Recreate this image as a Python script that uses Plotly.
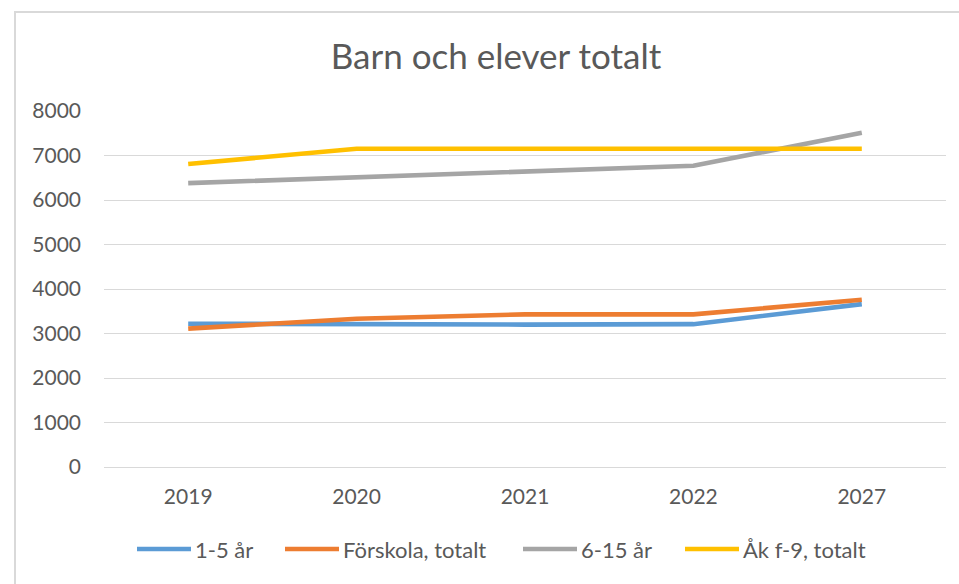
import plotly.graph_objects as go

years = ["2019", "2020", "2021", "2022", "2027"]
barn_1_5 = [3220, 3200, 3200, 3210, 3660]
forskola = [3110, 3330, 3430, 3430, 3760]
barn_6_15 = [6380, 6510, 6640, 6770, 7510]
ak_f9 = [6810, 7150, 7150, 7150, 7150]

series_names = ["1-5 år", "Förskola, totalt", "6-15 år", "Åk f-9, totalt"]
series_values = [barn_1_5, forskola, barn_6_15, ak_f9]
series_colors = ["#5B9BD5", "#ED7D31", "#A5A5A5", "#FFC000"]

W, H = 959, 584
L, R, T, B = 104, 946, 111, 467
# legend layout (page pixels): start of each legend line sample
legend_x = [137, 285, 523, 685]
legend_line_len = 54
legend_y = 549


def px_x(p):
    return (p - L) / (R - L)


def px_y(p):
    return (B - p) / (B - T)


fig = go.Figure()
for name, vals, col in zip(series_names, series_values, series_colors):
    fig.add_trace(go.Scatter(x=years, y=vals, name=name, mode="lines",
                             line=dict(color=col, width=4.6), hoverinfo="skip",
                             showlegend=False))

font = "Lato, 'Open Sans', sans-serif"
shapes = [dict(type="rect", xref="paper", yref="paper",
               x0=px_x(15), x1=2, y0=-2, y1=px_y(12),
               line=dict(color="#d9d9d9", width=2), layer="below")]
annotations = []
for name, col, lx in zip(series_names, series_colors, legend_x):
    shapes.append(dict(type="line", xref="paper", yref="paper",
                       x0=px_x(lx), x1=px_x(lx + legend_line_len),
                       y0=px_y(legend_y), y1=px_y(legend_y),
                       line=dict(color=col, width=4.6)))
    annotations.append(dict(text=name, xref="paper", yref="paper",
                            x=px_x(lx + legend_line_len + 2), y=px_y(legend_y),
                            xanchor="left", yanchor="middle", showarrow=False,
                            font=dict(family=font, size=22, color="#595959")))

fig.update_layout(
    width=W, height=H,
    margin=dict(l=L, r=W - R, t=T, b=H - B),
    paper_bgcolor="white", plot_bgcolor="white",
    title=dict(text="Barn och elever totalt", x=496 / W, xanchor="center",
               y=1 - 57 / H, yanchor="middle",
               font=dict(family=font, size=35, color="#595959")),
    font=dict(family=font, size=21, color="#595959"),
    xaxis=dict(type="category", range=[-0.5, 4.5], showgrid=False, showline=False,
               ticks="", automargin=False, ticklabelstandoff=15,
               tickfont=dict(size=21, color="#595959"), fixedrange=True),
    yaxis=dict(range=[0, 8000], dtick=1000, showgrid=True, gridcolor="#d9d9d9",
               gridwidth=1, zeroline=True, zerolinecolor="#d9d9d9", zerolinewidth=1,
               showline=False, ticks="", ticklabelstandoff=22, automargin=False,
               tickfont=dict(size=21, color="#595959"), fixedrange=True),
    showlegend=False,
    shapes=shapes,
    annotations=annotations,
)

fig.write_html("out.html", config={"displayModeBar": False},
               post_script="document.body.style.margin='0';document.body.style.overflow='hidden';")
